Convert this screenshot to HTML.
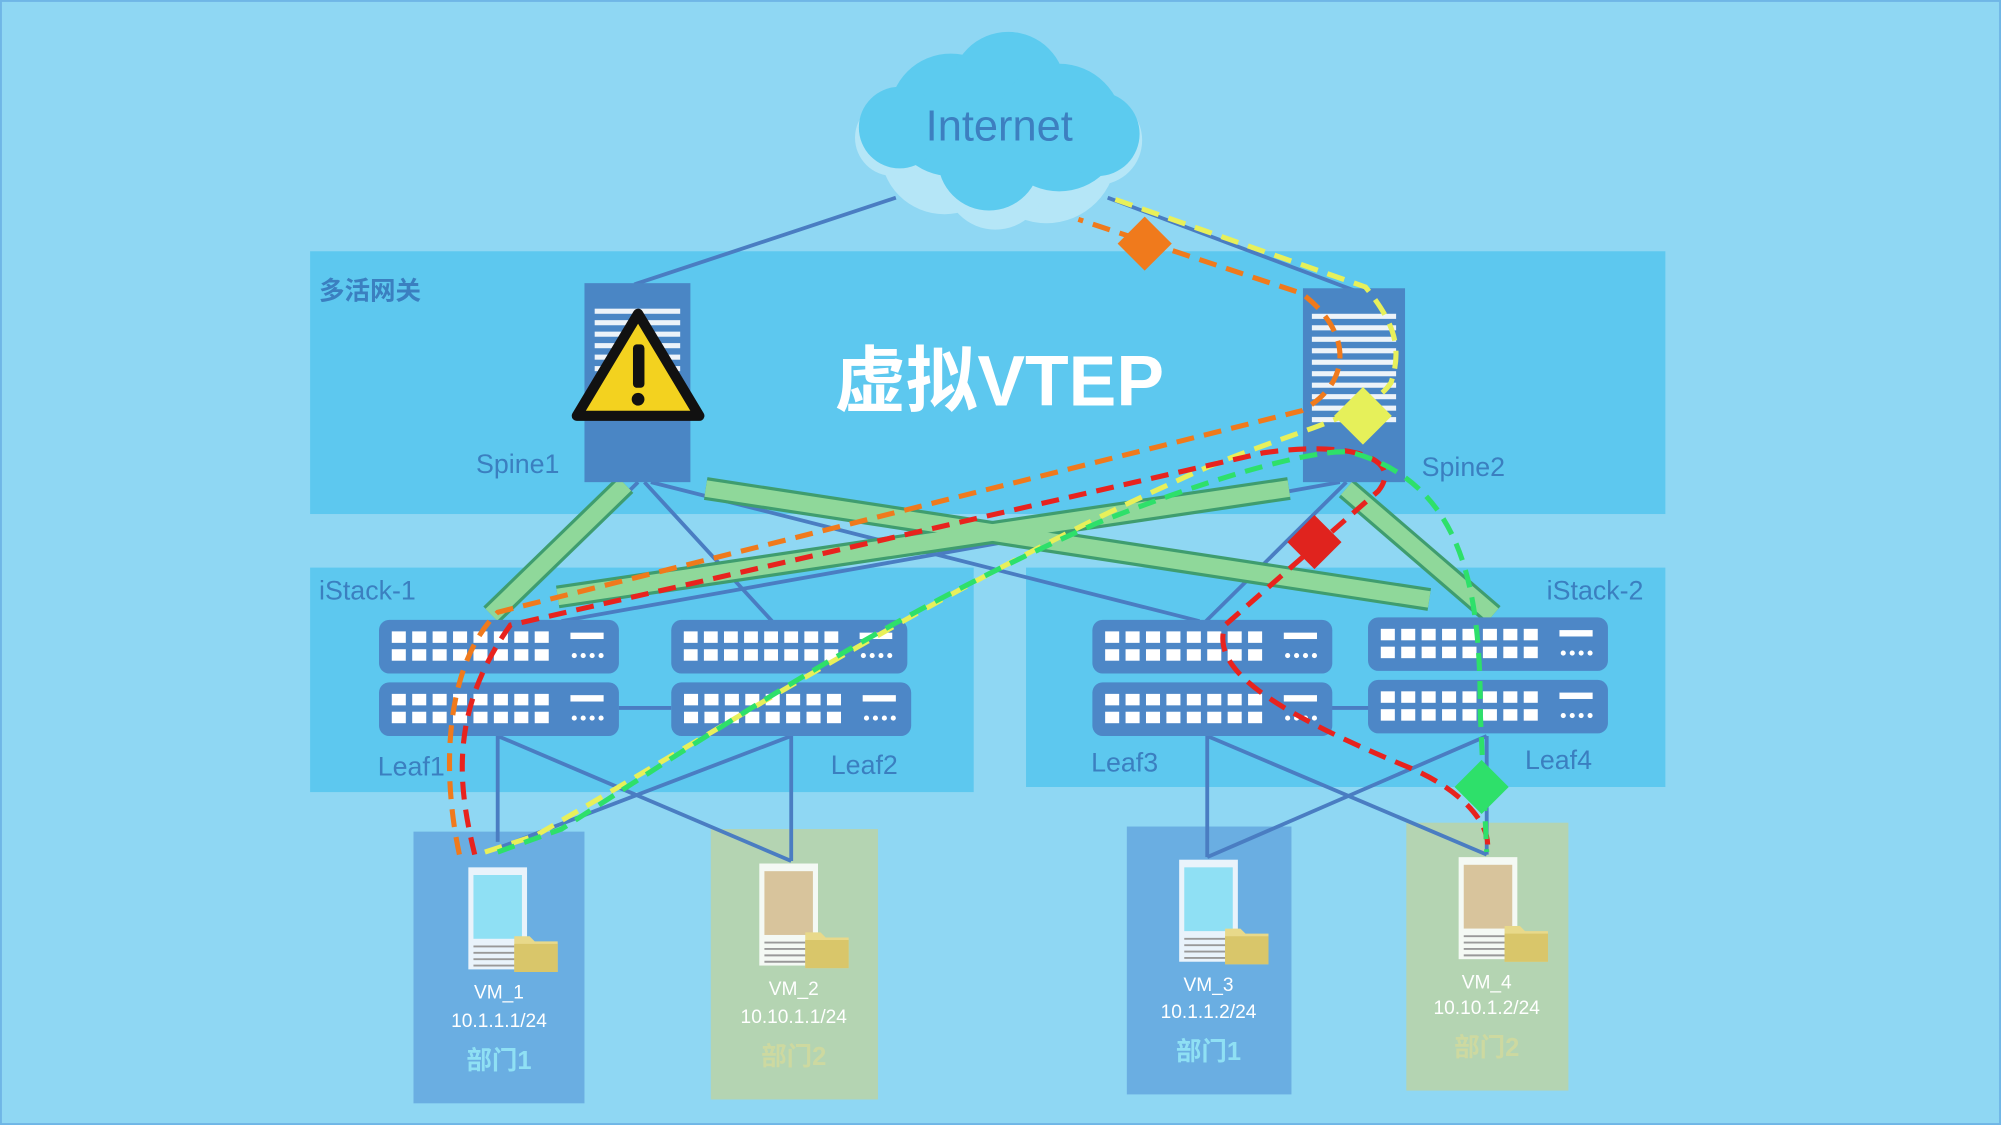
<!DOCTYPE html>
<html><head><meta charset="utf-8"><style>
html,body{margin:0;padding:0;background:#8fd7f3;}
svg{display:block;}
text{font-family:"Liberation Sans","Noto Sans CJK SC",sans-serif;}
</style></head><body>
<svg width="2001" height="1125" viewBox="0 0 1568 882" preserveAspectRatio="none" xmlns="http://www.w3.org/2000/svg">
<defs>
<g id="sw">
<rect x="0" y="0" width="188" height="42" rx="8" fill="#4d87c7"/>
<g fill="#fff">
<rect x="10" y="9" width="11" height="9"/><rect x="26" y="9" width="11" height="9"/><rect x="42" y="9" width="11" height="9"/><rect x="58" y="9" width="11" height="9"/><rect x="74" y="9" width="11" height="9"/><rect x="90" y="9" width="11" height="9"/><rect x="106" y="9" width="11" height="9"/><rect x="122" y="9" width="11" height="9"/>
<rect x="10" y="23" width="11" height="9"/><rect x="26" y="23" width="11" height="9"/><rect x="42" y="23" width="11" height="9"/><rect x="58" y="23" width="11" height="9"/><rect x="74" y="23" width="11" height="9"/><rect x="90" y="23" width="11" height="9"/><rect x="106" y="23" width="11" height="9"/><rect x="122" y="23" width="11" height="9"/>
<rect x="150" y="10" width="26" height="5"/>
<circle cx="153" cy="28" r="2"/><circle cx="160" cy="28" r="2"/><circle cx="167" cy="28" r="2"/><circle cx="174" cy="28" r="2"/>
</g></g>
<g id="srv">
<rect x="0" y="0" width="46" height="80" fill="#fff" opacity="0.85"/>
<rect x="4" y="6" width="38" height="50" fill="currentColor"/>
<g stroke="#999" stroke-width="1.5"><line x1="4" y1="62" x2="42" y2="62"/><line x1="4" y1="67" x2="42" y2="67"/><line x1="4" y1="72" x2="42" y2="72"/><line x1="4" y1="77" x2="42" y2="77"/></g>
<path d="M36 54 h12 l4 4 h18 v24 h-34z" fill="#e8d98a"/>
<path d="M36 60 h34 v22 h-34z" fill="#d9c66a"/>
</g>
</defs>
<rect width="1568" height="882" fill="#8fd7f3"/>
<rect x="0" y="0" width="1568" height="882" fill="none" stroke="#6fb6e6" stroke-width="3"/>
<!-- regions -->
<rect x="243" y="197" width="1062" height="206" fill="#5dc8ef"/>
<rect x="243" y="445" width="520" height="176" fill="#5dc8ef"/>
<rect x="804" y="445" width="501" height="172" fill="#5dc8ef"/>
<text x="250" y="235" font-size="20" font-weight="bold" fill="#3b7fc0">多活网关</text>
<text x="250" y="470" font-size="21" fill="#3b7fc0">iStack-1</text>
<text x="1212" y="470" font-size="21" fill="#3b7fc0">iStack-2</text>
<!-- VM boxes -->
<rect x="324" y="652" width="134" height="213" fill="#6aaee2"/>
<rect x="557" y="650" width="131" height="212" fill="#b4d4b2"/>
<rect x="883" y="648" width="129" height="210" fill="#6aaee2"/>
<rect x="1102" y="645" width="127" height="210" fill="#b4d4b2"/>
<!-- thin lines -->
<g stroke="#4a7dc2" stroke-width="3" fill="none">
<line x1="702" y1="155" x2="497" y2="223"/>
<line x1="868" y1="155" x2="1062" y2="228"/>
<line x1="500" y1="378" x2="390" y2="487"/>
<line x1="505" y1="378" x2="605" y2="487"/>
<line x1="510" y1="378" x2="940" y2="487"/>
<line x1="1050" y1="378" x2="440" y2="487"/>
<line x1="1055" y1="378" x2="945" y2="487"/>
<line x1="1060" y1="378" x2="1165" y2="487"/>
<line x1="390" y1="577" x2="390" y2="660"/>
<line x1="620" y1="577" x2="620" y2="675"/>
<line x1="390" y1="577" x2="620" y2="675"/>
<line x1="620" y1="577" x2="390" y2="665"/>
<line x1="485" y1="555" x2="526" y2="555"/>
<line x1="946" y1="577" x2="946" y2="672"/>
<line x1="1165" y1="577" x2="1165" y2="670"/>
<line x1="946" y1="577" x2="1165" y2="670"/>
<line x1="1165" y1="577" x2="946" y2="672"/>
<line x1="1037" y1="555" x2="1076" y2="555"/>
</g>
<!-- green bars -->
<g stroke="#3f9d6f" stroke-width="18" stroke-linecap="butt"><line x1="490" y1="380" x2="385" y2="482"/><line x1="553" y1="383" x2="1120" y2="470"/><line x1="1010" y1="383" x2="437" y2="468"/><line x1="1055" y1="383" x2="1170" y2="482"/></g>
<g stroke="#8fd89a" stroke-width="13" stroke-linecap="butt"><line x1="490" y1="380" x2="385" y2="482"/><line x1="553" y1="383" x2="1120" y2="470"/><line x1="1010" y1="383" x2="437" y2="468"/><line x1="1055" y1="383" x2="1170" y2="482"/></g>
<!-- cloud -->
<g fill="#b5e6f7"><circle cx="740" cy="118" r="50"/><circle cx="820" cy="120" r="55"/><circle cx="700" cy="108" r="30"/><circle cx="860" cy="110" r="35"/><circle cx="780" cy="140" r="40"/></g>
<g fill="#5ccbef"><circle cx="745" cy="90" r="48"/><circle cx="790" cy="70" r="45"/><circle cx="830" cy="100" r="50"/><circle cx="705" cy="100" r="32"/><circle cx="860" cy="105" r="33"/><circle cx="775" cy="125" r="40"/></g>
<text x="783" y="110" font-size="34" text-anchor="middle" fill="#3d7fc0">Internet</text>
<!-- spines -->
<rect x="458" y="222" width="83" height="156" fill="#4a86c5"/>
<rect x="1021" y="226" width="80" height="152" fill="#4a86c5"/>
<g fill="#fff" opacity="0.9">
<rect x="466" y="242" width="67" height="4"/><rect x="466" y="251" width="67" height="4"/><rect x="466" y="260" width="67" height="4"/><rect x="466" y="269" width="67" height="4"/><rect x="466" y="278" width="67" height="4"/><rect x="466" y="287" width="67" height="4"/><rect x="466" y="296" width="67" height="4"/><rect x="466" y="305" width="67" height="4"/>
<rect x="1028" y="246" width="66" height="4"/><rect x="1028" y="255" width="66" height="4"/><rect x="1028" y="264" width="66" height="4"/><rect x="1028" y="273" width="66" height="4"/><rect x="1028" y="282" width="66" height="4"/><rect x="1028" y="291" width="66" height="4"/><rect x="1028" y="300" width="66" height="4"/><rect x="1028" y="309" width="66" height="4"/><rect x="1028" y="318" width="66" height="4"/><rect x="1028" y="327" width="66" height="4"/>
</g>
<text x="373" y="371" font-size="21" fill="#3b7fc0">Spine1</text>
<text x="1114" y="373" font-size="21" fill="#3b7fc0">Spine2</text>
<!-- warning -->
<path d="M500 246 L548 326 L452 326 Z" fill="#f3d21f" stroke="#111" stroke-width="8" stroke-linejoin="round"/>
<rect x="496" y="270" width="9" height="34" rx="3" fill="#111"/><circle cx="500" cy="313" r="5" fill="#111"/>
<text x="783" y="318" font-size="56" font-weight="bold" text-anchor="middle" fill="#fff">虚拟VTEP</text>
<!-- switches -->
<use href="#sw" x="297" y="486"/><use href="#sw" x="297" y="535"/>
<use href="#sw" x="526" y="486" transform="translate(526 486) scale(0.984 1) translate(-526 -486)"/><use href="#sw" x="526" y="535"/>
<use href="#sw" x="856" y="486"/><use href="#sw" x="856" y="535"/>
<use href="#sw" x="1072" y="484"/><use href="#sw" x="1072" y="533"/>
<text x="296" y="608" font-size="21" fill="#3b7fc0">Leaf1</text>
<text x="651" y="607" font-size="21" fill="#3b7fc0">Leaf2</text>
<text x="855" y="605" font-size="21" fill="#3b7fc0">Leaf3</text>
<text x="1195" y="603" font-size="21" fill="#3b7fc0">Leaf4</text>
<!-- servers -->
<use href="#srv" x="367" y="680" color="#8fe0f4"/>
<use href="#srv" x="595" y="677" color="#d8c49c"/>
<use href="#srv" x="924" y="674" color="#8fe0f4"/>
<use href="#srv" x="1143" y="672" color="#d8c49c"/>
<g font-size="15" text-anchor="middle" fill="#fff">
<text x="391" y="783">VM_1</text><text x="391" y="805">10.1.1.1/24</text>
<text x="622" y="780">VM_2</text><text x="622" y="802">10.10.1.1/24</text>
<text x="947" y="777">VM_3</text><text x="947" y="798">10.1.1.2/24</text>
<text x="1165" y="775">VM_4</text><text x="1165" y="795">10.10.1.2/24</text>
</g>
<text x="391" y="838" font-size="20" font-weight="bold" text-anchor="middle" fill="#8fe0f4">部门1</text>
<text x="622" y="835" font-size="20" font-weight="bold" text-anchor="middle" fill="#cdd9a0">部门2</text>
<text x="947" y="831" font-size="20" font-weight="bold" text-anchor="middle" fill="#8fe0f4">部门1</text>
<text x="1165" y="828" font-size="20" font-weight="bold" text-anchor="middle" fill="#cdd9a0">部门2</text>
<!-- dashed paths -->
<g fill="none" stroke-width="4" stroke-dasharray="14 8">
<path d="M360 670 C345 600 350 520 390 480 L1020 322 C1060 300 1060 260 1020 230 L845 172" stroke="#f07a1c"/>
<path d="M380 668 L420 655 C600 550 760 450 920 378 C1000 340 1070 330 1090 300 C1100 270 1090 250 1070 225 L870 155" stroke="#e8f05a"/>
<path d="M372 670 C360 620 350 560 400 490 L990 355 C1060 345 1100 360 1080 385 L960 490 C950 520 980 550 1100 600 C1150 620 1170 650 1165 668" stroke="#e8231e"/>
<path d="M390 668 L440 650 C580 560 700 480 860 410 C960 370 1040 350 1060 355 C1150 380 1160 470 1160 560 L1165 668" stroke="#2ee06a"/>
</g>
<!-- diamonds -->
<rect x="882" y="176" width="30" height="30" fill="#f07a1c" transform="rotate(45 897 191)"/>
<rect x="1052" y="310" width="32" height="32" fill="#e6f05a" transform="rotate(45 1068 326)"/>
<rect x="1015" y="410" width="30" height="30" fill="#e0231e" transform="rotate(45 1030 425)"/>
<rect x="1146" y="602" width="30" height="30" fill="#2ee06a" transform="rotate(45 1161 617)"/>
</svg>
</body></html>
